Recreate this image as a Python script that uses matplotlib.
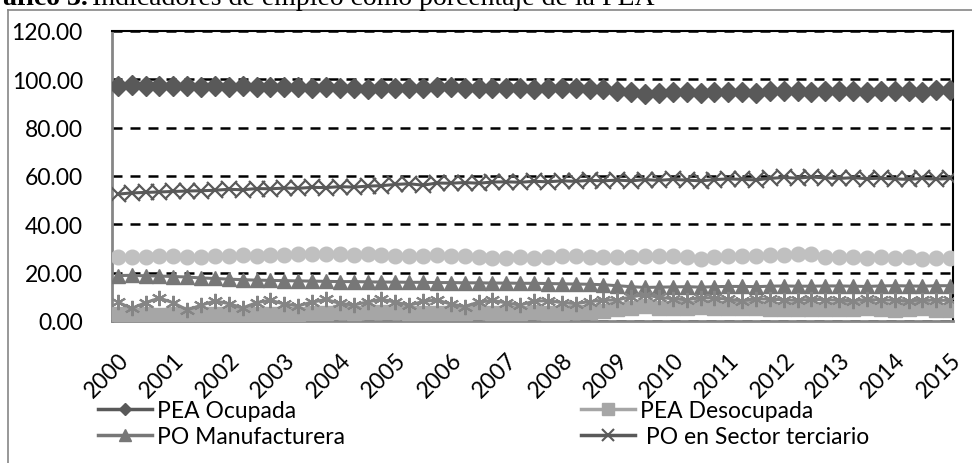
import matplotlib
matplotlib.use("Agg")
import matplotlib.pyplot as plt
import matplotlib.transforms as mtransforms
from matplotlib.lines import Line2D

# ===== datos trimestrales 2000T1 - 2015T1 =====
years = [str(y) for y in range(2000, 2016)]

pea_ocupada = [
    97.2, 97.5, 97.3, 97.4,
    97.3, 97.2, 97.0, 97.1,
    97.0, 97.2, 96.9, 97.0,
    96.9, 97.0, 96.6, 96.8,
    96.3, 96.5, 96.2, 96.4,
    96.4, 96.6, 96.5, 96.7,
    96.8, 96.6, 96.3, 96.5,
    96.6, 96.5, 96.2, 96.5,
    96.5, 96.4, 96.1, 95.8,
    95.2, 94.8, 93.9, 94.5,
    94.6, 94.7, 94.4, 94.6,
    94.7, 94.8, 94.5, 95.0,
    95.1, 95.2, 94.9, 95.2,
    95.1, 95.0, 94.8, 95.2,
    95.3, 95.1, 94.8, 95.4,
    95.6,
]

pea_desocupada = [
    2.8, 2.5, 2.7, 2.6,
    2.7, 2.8, 3.0, 2.9,
    3.0, 2.8, 3.1, 3.0,
    3.1, 3.0, 3.4, 3.2,
    3.7, 3.5, 3.8, 3.6,
    3.6, 3.4, 3.5, 3.3,
    3.2, 3.4, 3.7, 3.5,
    3.4, 3.5, 3.8, 3.5,
    3.5, 3.6, 3.9, 4.2,
    4.8, 5.2, 6.1, 5.5,
    5.4, 5.3, 5.6, 5.4,
    5.3, 5.2, 5.5, 5.0,
    4.9, 4.8, 5.1, 4.8,
    4.9, 5.0, 5.2, 4.8,
    4.7, 4.9, 5.2, 4.6,
    4.4,
]

po_manufacturera = [
    18.8, 18.9, 18.7, 18.6,
    18.4, 18.2, 17.8, 17.6,
    17.3, 17.1, 16.9, 16.8,
    16.7, 16.6, 16.5, 16.4,
    16.3, 16.3, 16.2, 16.1,
    16.1, 16.0, 16.0, 15.9,
    15.9, 15.8, 15.8, 15.7,
    15.7, 15.6, 15.6, 15.5,
    15.4, 15.3, 15.2, 15.0,
    14.6, 14.2, 13.9, 14.0,
    14.1, 14.2, 14.0, 14.2,
    14.3, 14.3, 14.2, 14.4,
    14.5, 14.4, 14.4, 14.5,
    14.5, 14.4, 14.3, 14.5,
    14.6, 14.5, 14.4, 14.6,
    14.6,
]

po_terciario = [
    52.5, 53.0, 53.2, 53.4,
    53.6, 53.8, 53.9, 54.1,
    54.5, 54.3, 54.8, 54.7,
    55.0, 54.9, 55.3, 55.2,
    55.6, 55.4, 55.8, 56.0,
    56.5, 56.8, 56.2, 57.1,
    57.0, 57.3, 57.0, 57.5,
    57.6, 57.4, 57.8, 57.6,
    58.0, 57.8, 58.2, 58.0,
    58.3, 58.0, 58.5, 58.2,
    58.6, 58.3, 58.0, 58.5,
    58.8, 58.6, 58.4, 59.0,
    59.4, 59.1, 59.6, 59.2,
    59.0, 59.3, 58.9, 59.1,
    58.8, 58.6, 59.0, 58.7,
    59.0,
]

serie_circulos = [
    26.5, 26.3, 26.6, 26.8,
    26.7, 26.5, 26.4, 26.9,
    27.0, 27.2, 27.1, 27.4,
    27.5, 27.8, 27.9, 27.6,
    27.8, 27.5, 27.6, 27.3,
    27.0, 26.8, 27.0, 27.5,
    27.1, 26.8, 26.4, 26.2,
    25.9, 26.3, 26.2, 26.5,
    26.8, 26.9, 26.6, 26.4,
    26.3, 26.6, 27.0, 26.8,
    26.7, 26.5, 25.8, 26.6,
    26.8, 27.0, 26.9, 27.3,
    27.5, 27.6, 27.8, 26.5,
    26.4, 26.6, 26.2, 26.4,
    26.1, 26.3, 25.7, 26.0,
    25.9,
]

serie_asteriscos = [
    7.8, 5.2, 7.6, 9.5,
    7.5, 4.6, 6.5, 8.3,
    7.2, 5.4, 7.6, 8.6,
    7.0, 6.3, 7.8, 8.9,
    7.3, 6.6, 7.9, 9.0,
    7.8, 6.5, 8.1, 8.7,
    7.0, 6.0, 7.8, 8.5,
    7.5, 6.6, 8.2, 8.4,
    7.6, 7.2, 8.0, 8.6,
    8.7, 10.0, 10.8, 9.8,
    9.2, 8.8, 9.6, 9.5,
    9.0, 8.4, 9.2, 9.0,
    8.8, 8.5, 9.0, 8.8,
    8.6, 8.4, 8.9, 8.7,
    8.6, 8.3, 8.8, 8.5,
    8.6,
]

x = list(range(len(pea_ocupada)))
W, H = 972, 464
FS = 16.5

fig = plt.figure(figsize=(W / 100, H / 100), dpi=100)
ax = fig.add_axes([112 / W, 1 - 322 / H, (953 - 112) / W, (322 - 32) / H])

# ===== series =====
ax.plot(x, pea_ocupada, color="#595959", lw=2.2, marker="D", ms=10,
        mfc="#595959", mec="#595959", zorder=5)
ax.plot(x, pea_desocupada, color="#a6a6a6", lw=2.2, marker="s", ms=9.5,
        mfc="#a6a6a6", mec="#a6a6a6", zorder=3)
ax.plot(x, po_manufacturera, color="#777777", lw=2.2, marker="^", ms=10.5,
        mfc="#777777", mec="#777777", zorder=4)
ax.plot(x, po_terciario, color="#595959", lw=2.2, marker="x", ms=11,
        mew=1.6, mec="#595959", zorder=5)
ax.plot(x, serie_circulos, color="#c0c0c0", lw=2.2, marker="o", ms=10.5,
        mfc="#c0c0c0", mec="#c0c0c0", zorder=3)
ax.plot(x, serie_asteriscos, color="#858585", lw=2.2, marker=(6, 2, 0), ms=11,
        mew=1.5, mec="#858585", zorder=4)

# ===== ejes =====
ax.set_ylim(0, 120)
ax.set_yticks(range(0, 121, 20))
ax.set_yticklabels([f"{v:.2f}" for v in range(0, 121, 20)])
ax.set_xlim(-0.42, 60.2)
ax.set_xticks(range(0, 61, 4))
ax.set_xticklabels(years, rotation=45, ha="right", va="top", rotation_mode="anchor")
shift = mtransforms.ScaledTranslation(4 / 100, 0, fig.dpi_scale_trans)
for lab in ax.get_xticklabels():
    lab.set_transform(lab.get_transform() + shift)

ax.yaxis.grid(True, color="black", linestyle=(0, (4, 3.2)), lw=1.8, zorder=1)
ax.set_axisbelow(True)
ax.tick_params(length=0, labelsize=FS, labelfontfamily="Lato")
ax.tick_params(axis="y", pad=21)
ax.tick_params(axis="x", pad=20)

for side in ["left", "bottom"]:
    ax.spines[side].set_color("#868686")
    ax.spines[side].set_linewidth(2)
for side in ["top", "right"]:
    ax.spines[side].set_color("black")
    ax.spines[side].set_linewidth(1.5)

# ===== leyenda =====
handles = [
    Line2D([], [], color="#595959", lw=2.5, marker="D", ms=6, mfc="#595959", mec="#595959"),
    Line2D([], [], color="#777777", lw=2.5, marker="^", ms=9, mfc="#777777", mec="#777777"),
    Line2D([], [], color="#a6a6a6", lw=2.5, marker="s", ms=8, mfc="#a6a6a6", mec="#a6a6a6"),
    Line2D([], [], color="#595959", lw=2.5, marker="x", ms=8, mew=1.5, mec="#595959"),
]
labels = ["PEA Ocupada", "PO Manufacturera", "PEA Desocupada", " PO en Sector terciario"]
fig.legend(handles, labels, ncol=2, loc="upper left", bbox_to_anchor=(98 / W, 1 - 401 / H),
           frameon=False, prop={"family": "Lato", "size": FS}, handlelength=2.35,
           handletextpad=0.22, columnspacing=10.3, labelspacing=0.2, borderpad=0,
           borderaxespad=0)

# ===== titulo (recortado en la imagen) =====
fig.text(88 / W, 1 - 5 / H, "Gráfico 3.", ha="right", va="baseline",
         family="Liberation Serif", weight="bold", size=20)
fig.text(92 / W, 1 - 5 / H, "Indicadores de empleo como porcentaje de la PEA",
         ha="left", va="baseline", family="Liberation Serif", size=20)

# marco del gráfico
fig.add_artist(Line2D([8 / W, 8 / W], [0, 1 - 11 / H], transform=fig.transFigure,
                      color="#868686", lw=1.2))
fig.add_artist(Line2D([8 / W, 1], [1 - 11 / H, 1 - 11 / H], transform=fig.transFigure,
                      color="#868686", lw=1.2))

fig.savefig("out.png", dpi=100)
